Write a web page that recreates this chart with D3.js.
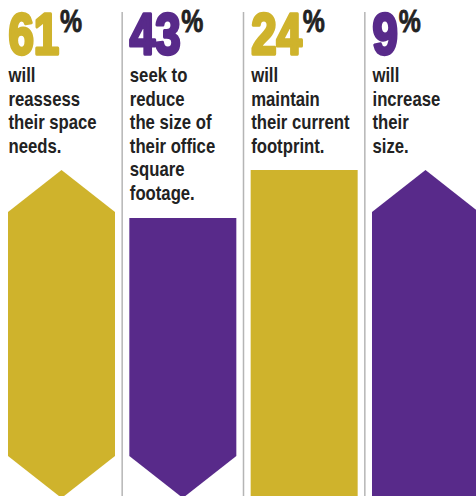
<!DOCTYPE html>
<html><head><meta charset="utf-8">
<script src="https://cdn.jsdelivr.net/npm/d3@7"></script>
<style>body{margin:0;background:#fff}</style></head>
<body><svg id="c" width="476" height="496"></svg>
<script>
const percents = [61, 43, 24, 9];
const labels = [
  ["will", "reassess", "their space", "needs."],
  ["seek to", "reduce", "the size of", "their office", "square", "footage."],
  ["will", "maintain", "their current", "footprint."],
  ["will", "increase", "their", "size."]
];
const shapes = ["both", "down", "flat", "up"];
const colors = ["#CFB32C", "#582A8A", "#CFB32C", "#582A8A"];

const W = 476, H = 496;
const svg = d3.select("#c");
const idx = d3.range(percents.length);
const x = d3.scaleBand().domain(idx).range([8, 479]).paddingInner(0.1181).paddingOuter(0);
const bw = x.bandwidth();

// separators
idx.slice(1).forEach(i => {
  const sx = (x(i - 1) + bw + x(i)) / 2;
  svg.append("line").attr("x1", sx).attr("x2", sx).attr("y1", 12).attr("y2", H)
    .attr("stroke", "#b5b5b5").attr("stroke-width", 1.5);
});

const topTip = 170, topShoulder = 212, flatTopDown = 218, botShoulder = 456, botTip = 498, bottom = 500;
function shapePath(i) {
  const x0 = x(i), x1 = x0 + bw, xm = x0 + bw / 2, s = shapes[i];
  const p = d3.path();
  if (s === "both" || s === "up") { p.moveTo(x0, topShoulder); p.lineTo(xm, topTip); p.lineTo(x1, topShoulder); }
  else if (s === "down") { p.moveTo(x0, flatTopDown); p.lineTo(x1, flatTopDown); }
  else { p.moveTo(x0, topTip); p.lineTo(x1, topTip); }
  if (s === "both" || s === "down") { p.lineTo(x1, botShoulder); p.lineTo(xm, botTip); p.lineTo(x0, botShoulder); }
  else { p.lineTo(x1, bottom); p.lineTo(x0, bottom); }
  p.closePath();
  return p.toString();
}
svg.selectAll("path.bar").data(idx).join("path").attr("class", "bar")
  .attr("d", shapePath).attr("fill", i => colors[i]);

const font = "'Liberation Sans', Arial, sans-serif";
idx.forEach(i => {
  const tx = x(i) + 0.5;
  const gn = svg.append("g").attr("transform", `translate(${tx},0) scale(0.8,1)`);
  const num = gn.append("text").attr("x", 0).attr("y", 54.5)
    .attr("font-family", font).attr("font-weight", "bold").attr("font-size", 57)
    .attr("fill", colors[i]).attr("stroke", colors[i]).attr("stroke-width", 3.4)
    .attr("stroke-linejoin", "round").text(percents[i]);
  const wNum = num.node().getComputedTextLength();
  gn.append("text").attr("x", wNum + 1).attr("y", 32.5)
    .attr("font-family", font).attr("font-weight", "bold").attr("font-size", 31)
    .attr("fill", "#222").attr("stroke", "#222").attr("stroke-width", 0.8).text("%");
  const gl = svg.append("g").attr("transform", `translate(${tx},0) scale(0.815,1)`);
  const t = gl.append("text").attr("font-family", font).attr("font-weight", "bold")
    .attr("font-size", 20.5).attr("fill", "#222");
  labels[i].forEach((ln, j) => {
    t.append("tspan").attr("x", 0).attr("y", 82 + j * 23.6).text(ln);
  });
});
</script></body></html>
